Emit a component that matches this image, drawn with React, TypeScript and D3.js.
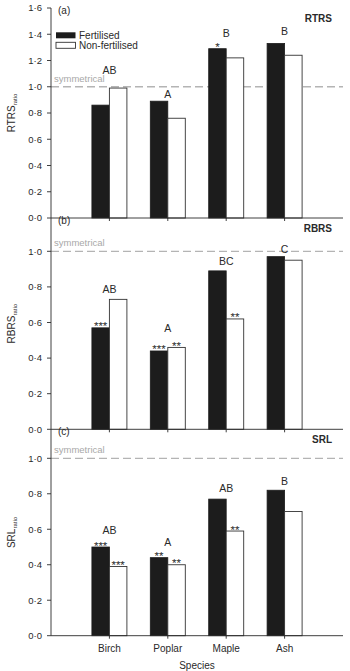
import React from "react";
import * as d3 from "d3";

// Root trait ratios by species, fertilised vs non-fertilised
const species = ["Birch", "Poplar", "Maple", "Ash"];

const rtrsFert = [0.86, 0.89, 1.29, 1.33];
const rtrsNon = [0.99, 0.76, 1.22, 1.24];
const rtrsLetters = ["AB", "A", "B", "B"];
const rtrsLetterAt = [1.1, 0.915, 1.38, 1.395];
const rtrsStarsFert = ["", "", "*", ""];
const rtrsStarsNon = ["", "", "", ""];

const rbrsFert = [0.57, 0.44, 0.89, 0.97];
const rbrsNon = [0.73, 0.46, 0.62, 0.95];
const rbrsLetters = ["AB", "A", "BC", "C"];
const rbrsLetterAt = [0.767, 0.547, 0.924, 0.99];
const rbrsStarsFert = ["***", "***", "", ""];
const rbrsStarsNon = ["", "**", "**", ""];

const srlFert = [0.5, 0.44, 0.77, 0.82];
const srlNon = [0.39, 0.4, 0.59, 0.7];
const srlLetters = ["AB", "A", "AB", "B"];
const srlLetterAt = [0.572, 0.506, 0.81, 0.85];
const srlStarsFert = ["***", "**", "", ""];
const srlStarsNon = ["***", "**", "**", ""];

const ticksA = [0, 0.2, 0.4, 0.6, 0.8, 1.0, 1.2, 1.4, 1.6];
const ticksBC = [0, 0.2, 0.4, 0.6, 0.8, 1.0];
const symmetricalLevel = 1.0;

const W = 350;
const H = 671;
const axisX = 51;
const axisRight = 343;
const barW = 17.5;
const FONT = "'Liberation Sans', Arial, Helvetica, sans-serif";
const INK = "#2a2a2a";

const fmt = (v: number) => d3.format(".1f")(v).replace(".", "\u00b7");

const x = d3.scalePoint<string>().domain(species).range([axisX, axisRight]).padding(1);

type Panel = {
  tag: string;
  name: string;
  axisName: string;
  fert: number[];
  non: number[];
  letters: string[];
  letterAt: number[];
  starsF: string[];
  starsN: string[];
  ticks: number[];
  top: number;
  bottom: number;
  maxV: number;
};

const panels: Panel[] = [
  {
    tag: "(a)", name: "RTRS", axisName: "RTRS",
    fert: rtrsFert, non: rtrsNon, letters: rtrsLetters, letterAt: rtrsLetterAt,
    starsF: rtrsStarsFert, starsN: rtrsStarsNon, ticks: ticksA,
    top: 8, bottom: 218, maxV: 1.6,
  },
  {
    tag: "(b)", name: "RBRS", axisName: "RBRS",
    fert: rbrsFert, non: rbrsNon, letters: rbrsLetters, letterAt: rbrsLetterAt,
    starsF: rbrsStarsFert, starsN: rbrsStarsNon, ticks: ticksBC,
    top: 218, bottom: 429.3, maxV: 211.3 / 178,
  },
  {
    tag: "(c)", name: "SRL", axisName: "SRL",
    fert: srlFert, non: srlNon, letters: srlLetters, letterAt: srlLetterAt,
    starsF: srlStarsFert, starsN: srlStarsNon, ticks: ticksBC,
    top: 429.3, bottom: 635.7, maxV: 206.4 / 177.4,
  },
];

function PanelView({ p, last }: { p: Panel; last: boolean }) {
  const y = d3.scaleLinear().domain([0, p.maxV]).range([p.bottom, p.top]);
  const midY = (p.top + p.bottom) / 2;
  return (
    <g>
      {/* reference line at ratio = 1 */}
      <line
        x1={axisX} x2={axisRight} y1={y(symmetricalLevel)} y2={y(symmetricalLevel)}
        stroke="#b4b4b4" strokeWidth={1.3} strokeDasharray="8,4"
      />
      <text x={axisX + 3} y={y(symmetricalLevel) - 5} fontSize={9.5} fill="#a8a8a8" fontFamily={FONT}>
        symmetrical
      </text>

      {/* bars */}
      {species.map((s, i) => {
        const cx = x(s)!;
        return (
          <g key={s}>
            <rect x={cx - barW} y={y(p.fert[i])} width={barW} height={y(0) - y(p.fert[i])}
              fill="#1c1c1c" stroke="#1c1c1c" strokeWidth={0.8} />
            <rect x={cx} y={y(p.non[i])} width={barW} height={y(0) - y(p.non[i])}
              fill="#fff" stroke="#333" strokeWidth={0.9} />
            {p.starsF[i] && (
              <text x={cx - barW / 2} y={y(p.fert[i]) + 2.5} textAnchor="middle" fontSize={11.5}
                fill={INK} fontFamily={FONT}>{p.starsF[i]}</text>
            )}
            {p.starsN[i] && (
              <text x={cx + barW / 2} y={y(p.non[i]) + 2.5} textAnchor="middle" fontSize={11.5}
                fill={INK} fontFamily={FONT}>{p.starsN[i]}</text>
            )}
            <text x={cx} y={y(p.letterAt[i])} textAnchor="middle" fontSize={10.5}
              fill={INK} fontFamily={FONT}>{p.letters[i]}</text>
          </g>
        );
      })}

      {/* y axis ticks */}
      {p.ticks.map((t) => (
        <g key={t}>
          <line x1={axisX - 4} x2={axisX} y1={y(t)} y2={y(t)} stroke={INK} strokeWidth={0.9} />
          <text x={axisX - 9} y={y(t)} dy="0.35em" textAnchor="end" fontSize={9.5}
            fill={INK} fontFamily={FONT}>{fmt(t)}</text>
        </g>
      ))}

      {/* x axis */}
      <line x1={axisX} x2={axisRight} y1={y(0)} y2={y(0)} stroke={INK} strokeWidth={0.9} />
      {species.map((s) => (
        <line key={s} x1={x(s)!} x2={x(s)!} y1={y(0)} y2={y(0) + 3} stroke={INK} strokeWidth={0.9} />
      ))}
      <line x1={axisX} x2={axisX} y1={p.top} y2={p.bottom} stroke={INK} strokeWidth={0.9} />

      <text x={axisX + 7} y={p.top + 6} fontSize={10} fill={INK} fontFamily={FONT}>{p.tag}</text>
      <text x={332} y={p.top + 14} textAnchor="end" fontSize={10} fontWeight="bold"
        fill={INK} fontFamily={FONT}>{p.name}</text>

      <text transform={`translate(15,${midY}) rotate(-90)`} textAnchor="middle" fontSize={10}
        fill={INK} fontFamily={FONT}>
        {p.axisName}
        <tspan fontSize={6} dy={2}>ratio</tspan>
      </text>

      {last &&
        species.map((s) => (
          <text key={s} x={x(s)!} y={y(0) + 16} textAnchor="middle" fontSize={10}
            fill={INK} fontFamily={FONT}>{s}</text>
        ))}
    </g>
  );
}

export default function App() {
  return (
    <div style={{ position: "absolute", left: 0, top: 0 }}>
      <svg width={W} height={H} style={{ display: "block", background: "#fff" }}>
        {panels.map((p, i) => (
          <PanelView key={p.tag} p={p} last={i === panels.length - 1} />
        ))}

        {/* legend */}
        <rect x={56} y={32.3} width={19.5} height={6} fill="#1c1c1c" />
        <text x={79} y={38.8} fontSize={10} fill={INK} fontFamily={FONT}>Fertilised</text>
        <rect x={56} y={42.3} width={19.5} height={6} fill="#fff" stroke="#333" strokeWidth={0.9} />
        <text x={79} y={48.8} fontSize={10} fill={INK} fontFamily={FONT}>Non-fertilised</text>

        <text x={(axisX + axisRight) / 2} y={669} textAnchor="middle" fontSize={10}
          fill={INK} fontFamily={FONT}>Species</text>
      </svg>
    </div>
  );
}
